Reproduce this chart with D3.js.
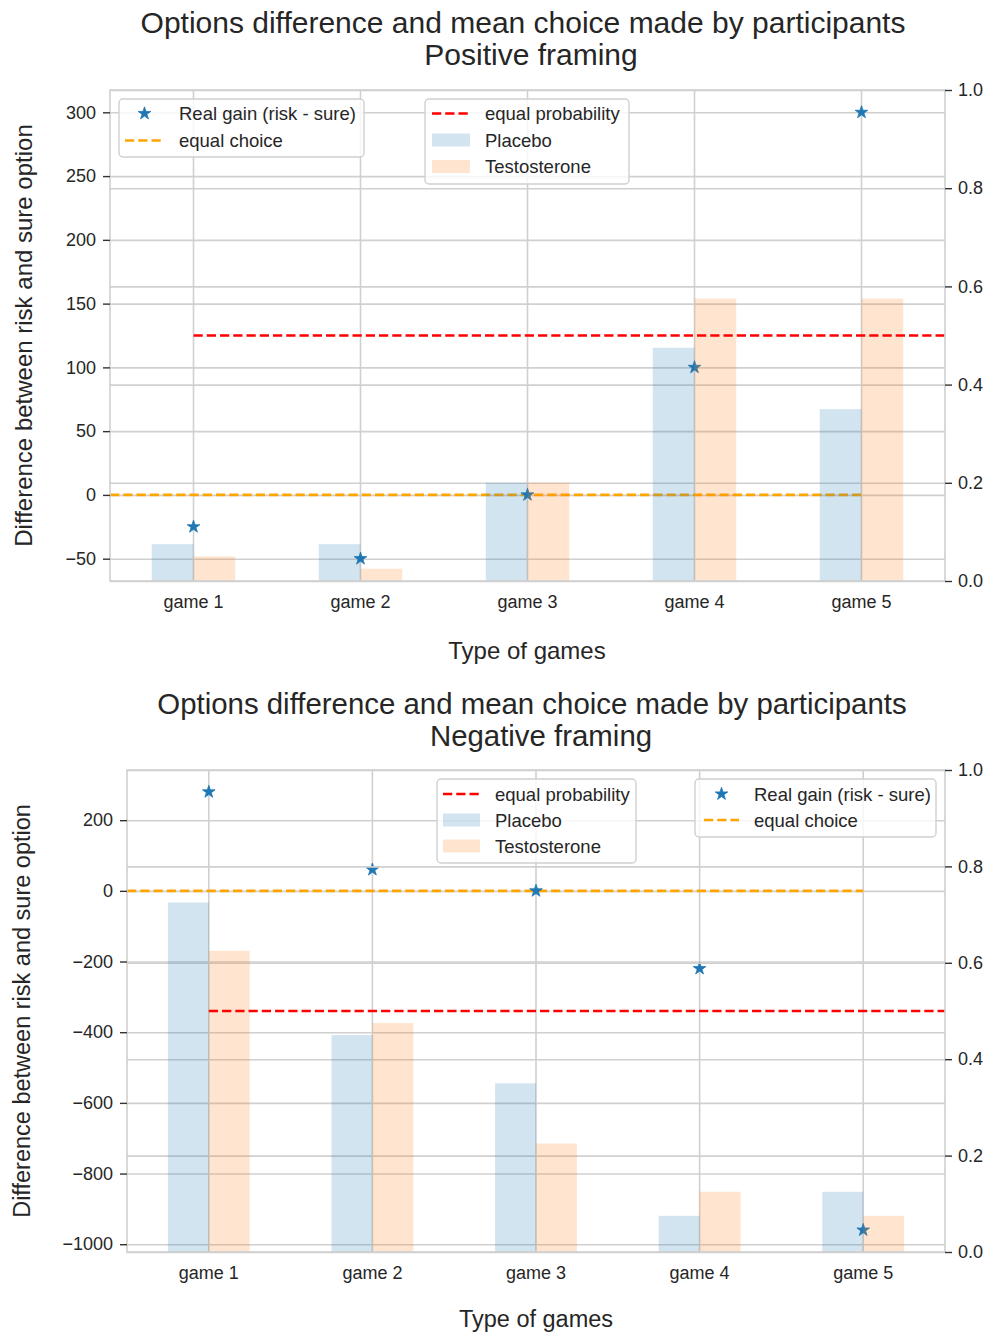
<!DOCTYPE html>
<html>
<head>
<meta charset="utf-8">
<script src="https://cdnjs.cloudflare.com/ajax/libs/d3/7.8.5/d3.min.js"></script>
<style>
body { margin: 0; background: #fff; }
svg { display: block; font-family: "Liberation Sans", Arial, sans-serif; }
</style>
</head>
<body>
<svg id="chart" width="985" height="1334"></svg>
<script>
// data
const games = ['game 1', 'game 2', 'game 3', 'game 4', 'game 5'];

const posGain = [-25, -50, 0, 100, 300];
const posPlacebo = [0.075, 0.075, 0.2, 0.475, 0.35];
const posTestosterone = [0.05, 0.025, 0.2, 0.575, 0.575];

const negGain = [280, 60, 0, -220, -960];
const negPlacebo = [0.725, 0.45, 0.35, 0.075, 0.125];
const negTestosterone = [0.625, 0.475, 0.225, 0.125, 0.075];

const posLeftTicks = [-50, 0, 50, 100, 150, 200, 250, 300];
const negLeftTicks = [-1000, -800, -600, -400, -200, 0, 200];
const rightTicks = [0, 0.2, 0.4, 0.6, 0.8, 1.0];

const equalChoice = 0;
const equalProbability = 0.5;

const blue = '#1f77b4', orange = '#ff7f0e';
const gridColor = '#d0d0d0', textColor = '#262626';

let svg = d3.select('#chart');

function drawPanel(p) {
    let g = svg.append('g');
    let w = p.right - p.left, h = p.bottom - p.top;

    let x = d3.scaleBand().domain(games).range([p.left, p.right]);
    let bw = x.bandwidth();
    const cx = d => x(d) + bw / 2;

    let ext = d3.extent(p.gain.concat([equalChoice]));
    let pad = (ext[1] - ext[0]) * 0.05;
    let yL = d3.scaleLinear().domain([ext[0] - pad, ext[1] + pad]).range([p.bottom, p.top]);
    let yR = d3.scaleLinear().domain([0, 1]).range([p.bottom, p.top]);

    // left axis grid + vertical grid
    g.append('g').attr('transform', `translate(${p.left},0)`)
        .call(d3.axisLeft(yL).tickValues(p.leftTicks).tickSize(-w).tickFormat(''))
        .call(a => a.select('.domain').remove())
        .selectAll('line').attr('stroke', gridColor).attr('stroke-width', 1.6);
    g.append('g').attr('transform', `translate(0,${p.bottom})`)
        .call(d3.axisBottom(x).tickSize(-h).tickFormat(''))
        .call(a => a.select('.domain').remove())
        .selectAll('line').attr('stroke', gridColor).attr('stroke-width', 1.6);

    // equal choice line
    g.append('line')
        .attr('x1', p.left).attr('x2', cx(games[games.length - 1]))
        .attr('y1', yL(equalChoice)).attr('y2', yL(equalChoice))
        .attr('stroke', 'orange').attr('stroke-width', 2.6).attr('stroke-dasharray', '9.25,4');

    // real gain stars
    g.selectAll('path.star').data(p.gain).join('path')
        .attr('class', 'star')
        .attr('d', d3.symbol(d3.symbolStar, 50))
        .attr('transform', (d, i) => `translate(${cx(games[i])},${yL(d)})`)
        .attr('fill', blue).attr('stroke', blue).attr('stroke-width', 0.8);

    // right axis grid (twin axes, drawn over)
    g.append('g').attr('transform', `translate(${p.right},0)`)
        .call(d3.axisRight(yR).tickValues(rightTicks).tickSize(-w).tickFormat(''))
        .call(a => a.select('.domain').remove())
        .selectAll('line').attr('stroke', gridColor).attr('stroke-width', 1.6);

    // bars
    g.selectAll('rect.placebo').data(p.placebo).join('rect')
        .attr('x', (d, i) => cx(games[i]) - bw * 0.25).attr('width', bw * 0.25)
        .attr('y', d => yR(d)).attr('height', d => yR(0) - yR(d))
        .attr('fill', blue).attr('fill-opacity', 0.2);
    g.selectAll('rect.testo').data(p.testosterone).join('rect')
        .attr('x', (d, i) => cx(games[i])).attr('width', bw * 0.25)
        .attr('y', d => yR(d)).attr('height', d => yR(0) - yR(d))
        .attr('fill', orange).attr('fill-opacity', 0.2);

    // equal probability line
    g.append('line')
        .attr('x1', cx(games[0])).attr('x2', p.right)
        .attr('y1', yR(equalProbability)).attr('y2', yR(equalProbability))
        .attr('stroke', 'red').attr('stroke-width', 2.6).attr('stroke-dasharray', '9.25,4');

    // spines
    g.append('rect').attr('x', p.left).attr('y', p.top).attr('width', w).attr('height', h)
        .attr('fill', 'none').attr('stroke', gridColor).attr('stroke-width', 1.6);

    // axes
    let la = g.append('g').attr('transform', `translate(${p.left},0)`)
        .call(d3.axisLeft(yL).tickValues(p.leftTicks).tickSize(7).tickPadding(7).tickFormat(d3.format('d')));
    let ra = g.append('g').attr('transform', `translate(${p.right},0)`)
        .call(d3.axisRight(yR).tickValues(rightTicks).tickSize(7).tickPadding(6).tickFormat(d3.format('.1f')));
    let ba = g.append('g').attr('transform', `translate(0,${p.bottom})`)
        .call(d3.axisBottom(x).tickSize(0).tickPadding(14));
    [la, ra, ba].forEach(a => {
        a.select('.domain').remove();
        a.selectAll('line').attr('stroke', '#333').attr('stroke-width', 1.4);
        a.selectAll('text').attr('fill', textColor).style('font-size', '18px')
            .style('font-family', '"Liberation Sans", Arial, sans-serif');
    });

    // labels
    g.append('text').attr('transform', `translate(${p.ylabelX},${(p.top + p.bottom) / 2}) rotate(-90)`)
        .attr('text-anchor', 'middle').attr('dominant-baseline', 'central')
        .style('font-size', p.labelSize + 'px').attr('fill', textColor)
        .text('Difference between risk and sure option');
    g.append('text').attr('x', p.xlabelX).attr('y', p.xlabelY)
        .attr('text-anchor', 'middle').attr('dominant-baseline', 'central')
        .style('font-size', p.labelSize + 'px').attr('fill', textColor)
        .text('Type of games');

    // title
    p.title.forEach(t => {
        g.append('text').attr('x', t.x).attr('y', t.y)
            .attr('text-anchor', 'middle').attr('dominant-baseline', 'central')
            .style('font-size', p.titleSize + 'px').attr('fill', textColor)
            .text(t.text);
    });

    // legends
    p.legends.forEach(lg => {
        let L = g.append('g');
        L.append('rect').attr('x', lg.x).attr('y', lg.y).attr('width', lg.w).attr('height', lg.h)
            .attr('rx', 4).attr('fill', '#fff').attr('fill-opacity', 0.8)
            .attr('stroke', gridColor).attr('stroke-width', 1.4);
        lg.items.forEach((it, i) => {
            let yy = lg.rows[i];
            if (it.kind === 'star') {
                L.append('path').attr('d', d3.symbol(d3.symbolStar, 50))
                    .attr('transform', `translate(${(lg.h0 + lg.h1) / 2},${yy})`)
                    .attr('fill', blue).attr('stroke', blue).attr('stroke-width', 0.8);
            } else if (it.kind === 'dash') {
                L.append('line').attr('x1', lg.h0).attr('x2', lg.h1).attr('y1', yy).attr('y2', yy)
                    .attr('stroke', it.color).attr('stroke-width', 2.6).attr('stroke-dasharray', '9.25,4');
            } else {
                L.append('rect').attr('x', lg.h0).attr('y', yy - 6.5).attr('width', lg.h1 - lg.h0).attr('height', 13)
                    .attr('fill', it.color).attr('fill-opacity', 0.2);
            }
            L.append('text').attr('x', lg.tx).attr('y', yy).attr('dominant-baseline', 'central')
                .style('font-size', '18.5px').attr('fill', textColor).text(it.label);
        });
    });
}

const itemsGain = [
    { kind: 'star', label: 'Real gain (risk - sure)' },
    { kind: 'dash', color: 'orange', label: 'equal choice' }
];
const itemsProb = [
    { kind: 'dash', color: 'red', label: 'equal probability' },
    { kind: 'patch', color: blue, label: 'Placebo' },
    { kind: 'patch', color: orange, label: 'Testosterone' }
];

drawPanel({
    left: 110, right: 945, top: 90, bottom: 581,
    gain: posGain, placebo: posPlacebo, testosterone: posTestosterone, leftTicks: posLeftTicks,
    ylabelX: 23, xlabelX: 527, xlabelY: 650, labelSize: 24, titleSize: 30,
    title: [
        { text: 'Options difference and mean choice made by participants', x: 523, y: 22 },
        { text: 'Positive framing', x: 531, y: 54 }
    ],
    legends: [
        { x: 119, y: 99, w: 245, h: 58, rows: [113.5, 140.5], h0: 125, h1: 164, tx: 179, items: itemsGain },
        { x: 425, y: 99, w: 204, h: 85, rows: [113.5, 140, 166.5], h0: 432, h1: 470, tx: 485, items: itemsProb }
    ]
});

drawPanel({
    left: 127, right: 945, top: 770, bottom: 1252,
    gain: negGain, placebo: negPlacebo, testosterone: negTestosterone, leftTicks: negLeftTicks,
    ylabelX: 22, xlabelX: 536, xlabelY: 1319, labelSize: 23.5, titleSize: 29.4,
    title: [
        { text: 'Options difference and mean choice made by participants', x: 532, y: 703 },
        { text: 'Negative framing', x: 541, y: 735 }
    ],
    legends: [
        { x: 437, y: 779, w: 199, h: 84, rows: [794, 820, 846], h0: 443, h1: 480, tx: 495, items: itemsProb },
        { x: 695, y: 779, w: 241, h: 58, rows: [794, 820], h0: 704, h1: 739, tx: 754, items: itemsGain }
    ]
});
</script>
</body>
</html>
